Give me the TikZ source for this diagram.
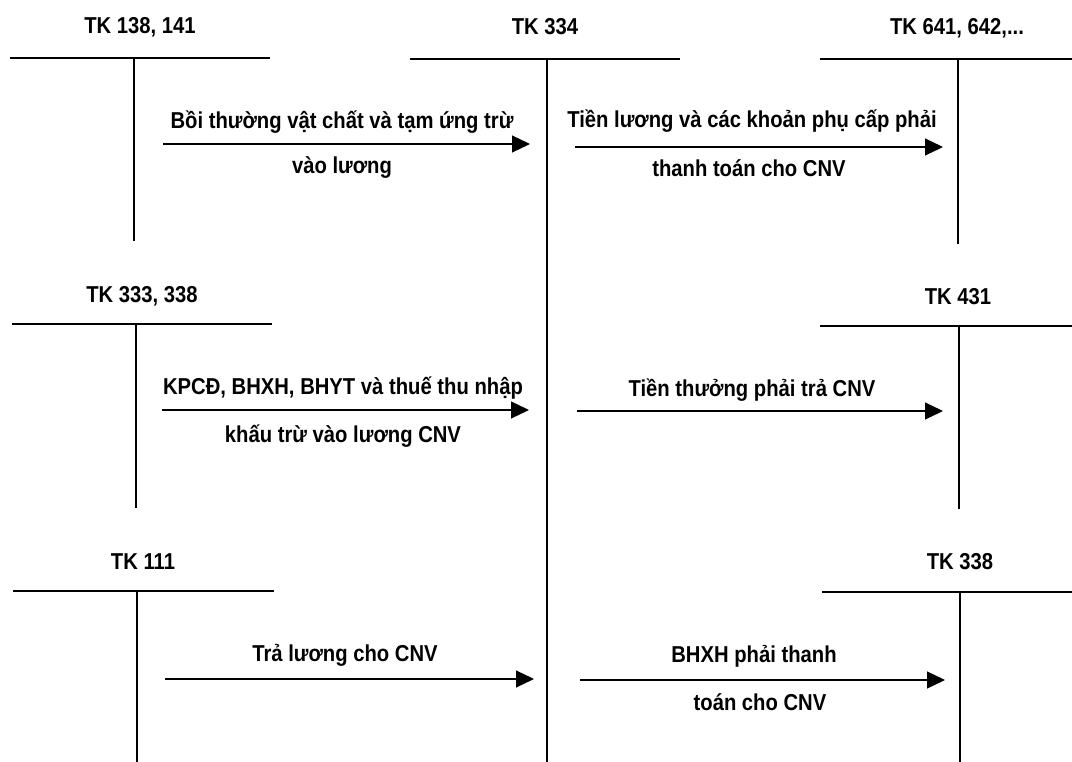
\documentclass[tikz,border=0pt]{standalone}
\usepackage{fontspec}
\setmainfont{Liberation Sans}
\newfontfamily\tallfont{Liberation Sans}[FakeStretch=0.88]
\usetikzlibrary{arrows.meta}
\begin{document}
\begin{tikzpicture}[x=1pt,y=-1pt,
  acct/.style={font=\tallfont\fontsize{23}{26}\selectfont\bfseries, inner sep=0pt},
  txt/.style={font=\tallfont\fontsize{23}{26}\selectfont\bfseries, inner sep=0pt},
  tline/.style={line width=1.2pt},
  flow/.style={line width=1.2pt, -{Triangle[length=18pt,width=17pt]}}]
\useasboundingbox (0,0) rectangle (1072,762);

% account labels
\node[acct] (a1) at (140,27) {TK 138, 141};
\node[acct] (a2) at (545,27) {TK 334};
\node[acct] (a3) at (957,28) {TK 641, 642,...};
\node[acct] (a4) at (142,296) {TK 333, 338};
\node[acct] (a5) at (958,297) {TK 431};
\node[acct] (a6) at (143,562) {TK 111};
\node[acct] (a7) at (960,562) {TK 338};

% T-accounts
\coordinate (a1L) at (10,58);  \coordinate (a1R) at (270,58);
\coordinate (a1T) at (134,58); \coordinate (a1B) at (134,241);
\coordinate (a2L) at (410,59); \coordinate (a2R) at (680,59);
\coordinate (a2T) at (547,59); \coordinate (a2B) at (547,762);
\coordinate (a3L) at (820,59); \coordinate (a3R) at (1072,59);
\coordinate (a3T) at (958,59); \coordinate (a3B) at (958,244);
\coordinate (a4L) at (12,324); \coordinate (a4R) at (272,324);
\coordinate (a4T) at (136,324); \coordinate (a4B) at (136,508);
\coordinate (a5L) at (820,326); \coordinate (a5R) at (1072,326);
\coordinate (a5T) at (959,326); \coordinate (a5B) at (959,509);
\coordinate (a6L) at (13,591); \coordinate (a6R) at (274,591);
\coordinate (a6T) at (137,591); \coordinate (a6B) at (137,762);
\coordinate (a7L) at (822,592); \coordinate (a7R) at (1072,592);
\coordinate (a7T) at (960,592); \coordinate (a7B) at (960,762);

\foreach \n in {a1,a2,a3,a4,a5,a6,a7}{
  \draw[tline] (\n L) -- (\n R);
  \draw[tline] (\n T) -- (\n B);
}

% flows
\coordinate (f1s) at (163,144); \coordinate (f1e) at (530,144);
\coordinate (f2s) at (575,147); \coordinate (f2e) at (943,147);
\coordinate (f3s) at (162,410); \coordinate (f3e) at (529,410);
\coordinate (f4s) at (577,411); \coordinate (f4e) at (943,411);
\coordinate (f5s) at (165,679); \coordinate (f5e) at (534,679);
\coordinate (f6s) at (580,680); \coordinate (f6e) at (945,680);

\draw[flow] (f1s) -- (f1e);
\draw[flow] (f2s) -- (f2e);
\draw[flow] (f3s) -- (f3e);
\draw[flow] (f4s) -- (f4e);
\draw[flow] (f5s) -- (f5e);
\draw[flow] (f6s) -- (f6e);

% flow texts
\node[txt] (t1a) at (342,122) {Bồi thường vật chất và tạm ứng trừ};
\node[txt] (t1b) at (342,168) {vào lương};
\node[txt] (t2a) at (752,121) {Tiền lương và các khoản phụ cấp phải};
\node[txt] (t2b) at (749,168) {thanh toán cho CNV};
\node[txt] (t3a) at (343,388) {KPCĐ, BHXH, BHYT và thuế thu nhập};
\node[txt] (t3b) at (343,436) {khấu trừ vào lương CNV};
\node[txt] (t4a) at (752,390) {Tiền thưởng phải trả CNV};
\node[txt] (t5a) at (345,655) {Trả lương cho CNV};
\node[txt] (t6a) at (754,656) {BHXH phải thanh};
\node[txt] (t6b) at (760,702) {toán cho CNV};
\end{tikzpicture}
\end{document}
